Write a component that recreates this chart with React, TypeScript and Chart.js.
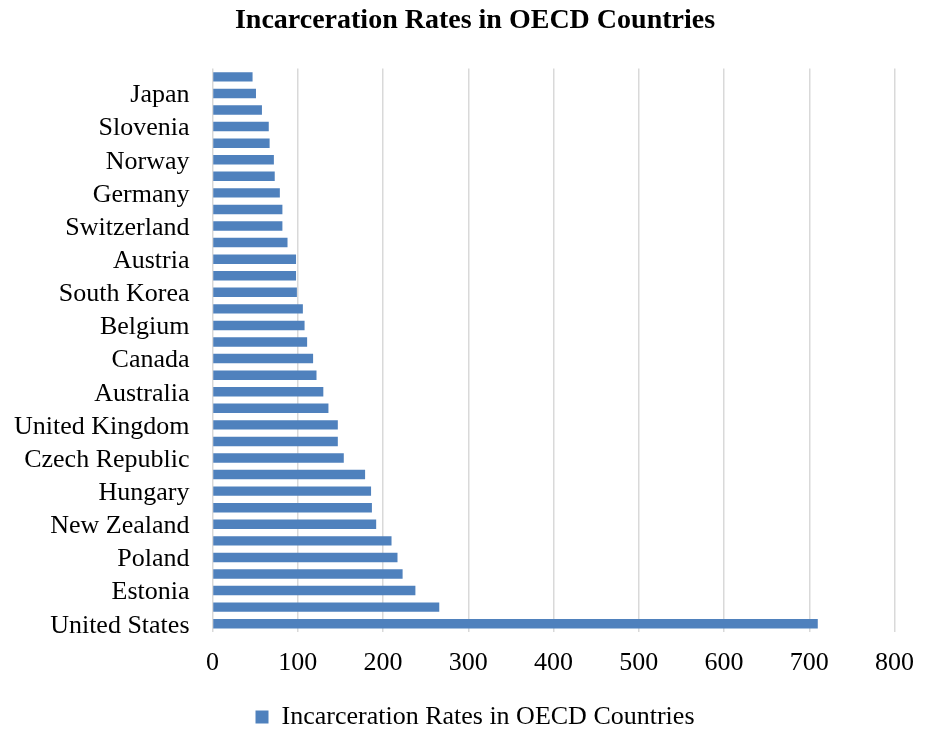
import React, { useEffect, useRef } from "react";
import { Chart, registerables } from "chart.js";

Chart.register(...registerables);

const TITLE = "Incarceration Rates in OECD Countries";
const SERIES_NAME = "Incarceration Rates in OECD Countries";

// Ordered from bottom bar to top bar
const countries: string[] = [
  "United States", "Chile", "Estonia", "Israel", "Poland", "Slovakia",
  "New Zealand", "Mexico", "Hungary", "Turkey", "Czech Republic", "Spain",
  "United Kingdom", "Luxembourg", "Australia", "Portugal", "Canada", "France",
  "Belgium", "Greece", "South Korea", "Italy", "Austria", "Ireland",
  "Switzerland", "Netherlands", "Germany", "Denmark", "Norway", "Sweden",
  "Slovenia", "Finland", "Japan", "Iceland",
];

const rates: number[] = [
  710, 266, 238, 223, 217, 210, 192, 187, 186, 179, 154, 147, 147, 136, 130,
  122, 118, 111, 108, 106, 99, 98, 98, 88, 82, 82, 79, 73, 72, 67, 66, 58, 51, 47,
];

const xTicks: number[] = [0, 100, 200, 300, 400, 500, 600, 700, 800];

const FONT = "'Liberation Serif', 'Times New Roman', serif";

const shiftBlocks = {
  id: "shiftBlocks",
  beforeDraw(chart: any) {
    const boxes = chart.boxes || [];
    for (const b of boxes) {
      if (b === chart.titleBlock || b === chart.legend) {
        b.left = 20;
        b.right = 930;
        b.width = b.right - b.left;
      }
    }
  },
};

export default function App() {
  const ref = useRef<HTMLCanvasElement | null>(null);

  useEffect(() => {
    document.body.style.margin = "0";
    const canvas = ref.current;
    if (!canvas) return;
    const chart = new Chart(canvas, {
      type: "bar",
      data: {
        labels: countries,
        datasets: [
          {
            label: SERIES_NAME,
            data: rates,
            backgroundColor: "#4F81BD",
            borderWidth: 0,
            barPercentage: 0.57,
            categoryPercentage: 1,
          },
        ],
      },
      plugins: [shiftBlocks],
      options: {
        indexAxis: "y",
        responsive: false,
        animation: false,
        layout: { padding: { left: 0, right: 24, top: 0, bottom: -9 } },
        plugins: {
          title: {
            display: true,
            text: TITLE,
            color: "#000",
            font: { family: FONT, size: 28, weight: "bold" },
            padding: { top: 4, bottom: 31 },
          },
          legend: {
            position: "bottom",
            labels: {
              boxWidth: 13,
              boxHeight: 13,
              padding: 2,
              color: "#000",
              font: { family: FONT, size: 26 },
            },
          },
          tooltip: { enabled: false },
        },
        scales: {
          x: {
            min: 0,
            max: 800,
            afterBuildTicks: (scale: any) => {
              scale.ticks = xTicks.map((v) => ({ value: v }));
            },
            afterFit: (scale: any) => {
              scale.height = 70;
            },
            grid: { color: "#d9d9d9", lineWidth: 1.5, drawTicks: false },
            border: { display: false },
            ticks: {
              padding: 16,
              color: "#000",
              font: { family: FONT, size: 26 },
            },
          },
          y: {
            reverse: true,
            afterFit: (scale: any) => {
              scale.width = 212.5;
            },
            grid: { display: false, drawTicks: false },
            border: { display: false },
            ticks: {
              autoSkip: false,
              padding: 23,
              labelOffset: 2,
              color: "#000",
              font: { family: FONT, size: 26 },
              callback: (_v: any, i: number) => (i % 2 === 0 ? countries[i] : ""),
            },
          },
        },
      },
    });
    return () => chart.destroy();
  }, []);

  return (
    <div style={{ width: 930, height: 731 }}>
      <canvas ref={ref} width={930} height={731} />
    </div>
  );
}
